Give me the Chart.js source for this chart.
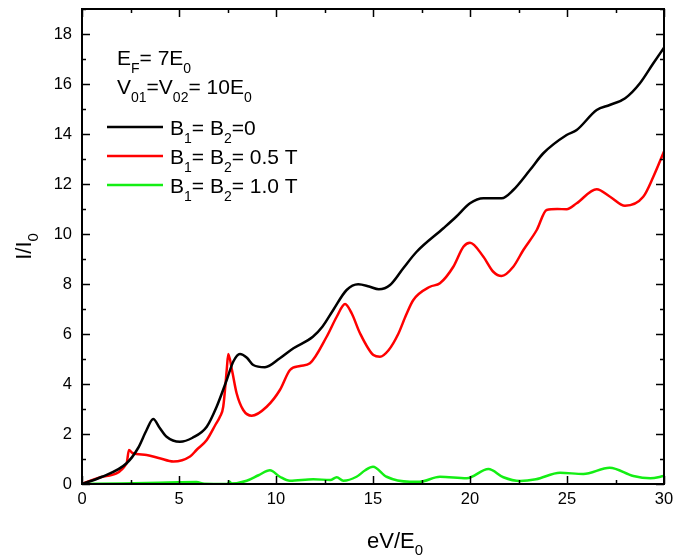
<!DOCTYPE html>
<html>
<head>
<meta charset="utf-8">
<script src="https://cdn.jsdelivr.net/npm/chart.js@4.4.0/dist/chart.umd.min.js"></script>
<style>
body { margin: 0; background: #fff; }
</style>
</head>
<body>
<canvas id="chart_iv" width="676" height="559"></canvas>
<script>
const font_family = "'Liberation Sans', Arial, sans-serif";

// B1 = B2 = 0
const x_b0 = [0, 1, 2.3, 2.9, 3.33, 3.67, 4.0, 4.36, 5.05, 5.7, 6.43, 6.94, 7.46, 7.8, 8.14, 8.5, 8.83, 9.43, 10.2, 10.9, 11.9, 12.4, 12.95, 13.64, 14.24, 14.8, 15.3, 15.88, 16.56, 17.25, 18.63, 19.3, 20.0, 20.69, 21.63, 22.23, 23.09, 23.78, 24.98, 25.5, 26.53, 27.2, 28.0, 28.76, 29.45, 30];
const y_b0 = [0, 0.28, 0.83, 1.45, 2.16, 2.6, 2.25, 1.89, 1.69, 1.85, 2.29, 3.09, 4.16, 4.9, 5.2, 5.05, 4.76, 4.67, 5.03, 5.43, 5.89, 6.3, 6.96, 7.76, 7.99, 7.9, 7.79, 7.96, 8.63, 9.29, 10.23, 10.7, 11.23, 11.43, 11.43, 11.76, 12.56, 13.23, 13.96, 14.16, 14.96, 15.16, 15.43, 16.03, 16.83, 17.45];

// B1 = B2 = 0.5 T
const x_b05 = [0, 1, 2.3, 2.42, 2.6, 3.33, 4.0, 4.71, 5.57, 5.9, 6.43, 6.9, 7.11, 7.28, 7.46, 7.54, 7.73, 7.97, 8.31, 8.75, 9.52, 10.2, 10.72, 11.24, 11.75, 12.61, 13.13, 13.56, 13.9, 14.33, 15.02, 15.36, 15.8, 16.3, 16.7, 17.08, 17.94, 18.45, 19.14, 19.66, 20.0, 20.69, 21.2, 21.63, 22.23, 22.75, 23.44, 23.95, 24.5, 24.98, 25.5, 26.53, 27.22, 27.99, 28.93, 29.45, 30];
const y_b05 = [0, 0.28, 0.83, 1.36, 1.24, 1.16, 1.03, 0.9, 1.1, 1.36, 1.76, 2.4, 2.69, 3.09, 4.56, 5.2, 4.56, 3.63, 2.96, 2.73, 3.09, 3.76, 4.56, 4.72, 4.83, 5.89, 6.69, 7.2, 6.83, 6.03, 5.16, 5.09, 5.35, 6.0, 6.75, 7.36, 7.89, 8.03, 8.69, 9.49, 9.65, 9.09, 8.49, 8.32, 8.69, 9.36, 10.16, 10.96, 11.0, 10.99, 11.23, 11.79, 11.49, 11.13, 11.49, 12.29, 13.3];

// B1 = B2 = 1.0 T
const x_b10 = [0, 2, 4, 5.0, 5.9, 6.3, 7.5, 7.6, 7.7, 8.49, 9.1, 9.69, 10.2, 10.72, 11.92, 12.8, 13.13, 13.47, 14.15, 14.6, 15.0, 15.7, 16.9, 17.4, 18.45, 19.83, 20.95, 21.72, 22.58, 23.4, 24.64, 25.84, 27.2, 28.42, 29.3, 30];
const y_b10 = [0, 0.02, 0.05, 0.07, 0.08, 0.01, 0, 0.1, 0.02, 0.13, 0.35, 0.55, 0.29, 0.13, 0.19, 0.16, 0.27, 0.13, 0.29, 0.55, 0.69, 0.29, 0.09, 0.09, 0.29, 0.23, 0.6, 0.27, 0.12, 0.19, 0.45, 0.4, 0.65, 0.32, 0.23, 0.32];

const series_labels = ['B_{1}= B_{2}=0', 'B_{1}= B_{2}= 0.5 T', 'B_{1}= B_{2}= 1.0 T'];
const series_colors = ['#000000', '#ff0000', '#14ee14'];
const note_lines = ['E_{F}= 7E_{0}', 'V_{01}=V_{02}= 10E_{0}'];
const x_title = 'eV/E_{0}';
const y_title = 'I/I_{0}';

function to_points(xs, ys) {
    return xs.map((x, i) => ({ x: x, y: ys[i] }));
}

// "E_{F}= 7E_{0}" -> [['E', false], ['F', true], ['= 7E', false], ['0', true]]
function split_rich(text) {
    const parts = [];
    const re = /_\{([^}]*)\}/g;
    let last = 0, m;
    while ((m = re.exec(text)) !== null) {
        if (m.index > last) parts.push([text.slice(last, m.index), false]);
        parts.push([m[1], true]);
        last = re.lastIndex;
    }
    if (last < text.length) parts.push([text.slice(last), false]);
    return parts;
}

function rich_width(ctx, text, size, sub_size) {
    let w = 0;
    split_rich(text).forEach(([t, sub]) => {
        ctx.font = (sub ? sub_size : size) + 'px ' + font_family;
        w += ctx.measureText(t).width;
    });
    return w;
}

function draw_rich(ctx, text, x, y, size, sub_size, sub_shift) {
    let cx = x;
    ctx.textAlign = 'left';
    ctx.textBaseline = 'alphabetic';
    split_rich(text).forEach(([t, sub]) => {
        ctx.font = (sub ? sub_size : size) + 'px ' + font_family;
        ctx.fillText(t, cx, sub ? y + sub_shift : y);
        cx += ctx.measureText(t).width;
    });
}

const frame_plugin = {
    id: 'frame',
    afterDraw(chart) {
        const ctx = chart.ctx;
        const a = chart.chartArea;
        const xs = chart.scales.x;
        const ys = chart.scales.y;
        ctx.save();
        ctx.strokeStyle = '#000';
        ctx.lineWidth = 1.5;
        ctx.beginPath();
        for (let v = 0; v <= 30; v += 2.5) {
            const px = Math.round(xs.getPixelForValue(v)) + 0.5;
            const len = v % 5 === 0 ? 8 : 4;
            ctx.moveTo(px, a.bottom); ctx.lineTo(px, a.bottom - len);
            ctx.moveTo(px, a.top); ctx.lineTo(px, a.top + len);
        }
        for (let v = 0; v <= 19; v += 1) {
            const py = Math.round(ys.getPixelForValue(v)) + 0.5;
            const len = v % 2 === 0 ? 8 : 4;
            ctx.moveTo(a.left, py); ctx.lineTo(a.left + len, py);
            ctx.moveTo(a.right, py); ctx.lineTo(a.right - len, py);
        }
        ctx.stroke();
        ctx.lineWidth = 2;
        ctx.strokeRect(a.left, a.top, a.right - a.left, a.bottom - a.top);

        ctx.fillStyle = '#000';
        // axis titles
        draw_rich(ctx, x_title, 367, 548, 22, 15, 7);
        const yw = rich_width(ctx, y_title, 22, 15);
        ctx.save();
        ctx.translate(31, (a.top + a.bottom) / 2 + yw / 2);
        ctx.rotate(-Math.PI / 2);
        draw_rich(ctx, y_title, 0, 0, 22, 15, 7);
        ctx.restore();

        // parameter notes
        note_lines.forEach((t, i) => {
            draw_rich(ctx, t, 117, 65 + i * 29, 21, 14, 7.5);
        });

        // legend
        chart.data.datasets.forEach((ds, i) => {
            const ly = 127 + i * 29;
            ctx.strokeStyle = ds.borderColor;
            ctx.lineWidth = 2.5;
            ctx.beginPath();
            ctx.moveTo(107, ly);
            ctx.lineTo(163, ly);
            ctx.stroke();
            ctx.fillStyle = '#000';
            draw_rich(ctx, ds.label, 170, ly + 8, 21, 14, 7.5);
        });
        ctx.restore();
    }
};

new Chart(document.getElementById('chart_iv'), {
    type: 'line',
    data: {
        datasets: [
            { label: series_labels[0], data: to_points(x_b0, y_b0), borderColor: series_colors[0] },
            { label: series_labels[1], data: to_points(x_b05, y_b05), borderColor: series_colors[1] },
            { label: series_labels[2], data: to_points(x_b10, y_b10), borderColor: series_colors[2] }
        ]
    },
    options: {
        responsive: false,
        animation: false,
        devicePixelRatio: 1,
        datasets: {
            line: {
                borderWidth: 2.5,
                pointRadius: 0,
                cubicInterpolationMode: 'monotone',
                fill: false
            }
        },
        layout: { padding: { top: 9, right: 12, left: 0, bottom: 0 } },
        plugins: {
            legend: { display: false },
            tooltip: { enabled: false }
        },
        scales: {
            x: {
                type: 'linear',
                min: 0,
                max: 30,
                grid: { display: false, drawTicks: false },
                border: { display: false },
                ticks: {
                    stepSize: 5,
                    padding: 6,
                    color: '#000',
                    font: { family: font_family, size: 16.5 }
                },
                afterFit(scale) {
                    scale.height = 75;
                    scale.paddingLeft = 0;
                    scale.paddingRight = 0;
                }
            },
            y: {
                min: 0,
                max: 19,
                grid: { display: false, drawTicks: false },
                border: { display: false },
                ticks: {
                    stepSize: 2,
                    padding: 10,
                    color: '#000',
                    font: { family: font_family, size: 16.5 }
                },
                afterBuildTicks(scale) {
                    scale.ticks = scale.ticks.filter(t => t.value % 2 === 0);
                },
                afterFit(scale) {
                    scale.width = 82;
                    scale.paddingTop = 0;
                    scale.paddingBottom = 0;
                }
            }
        }
    },
    plugins: [frame_plugin]
});
</script>
</body>
</html>
